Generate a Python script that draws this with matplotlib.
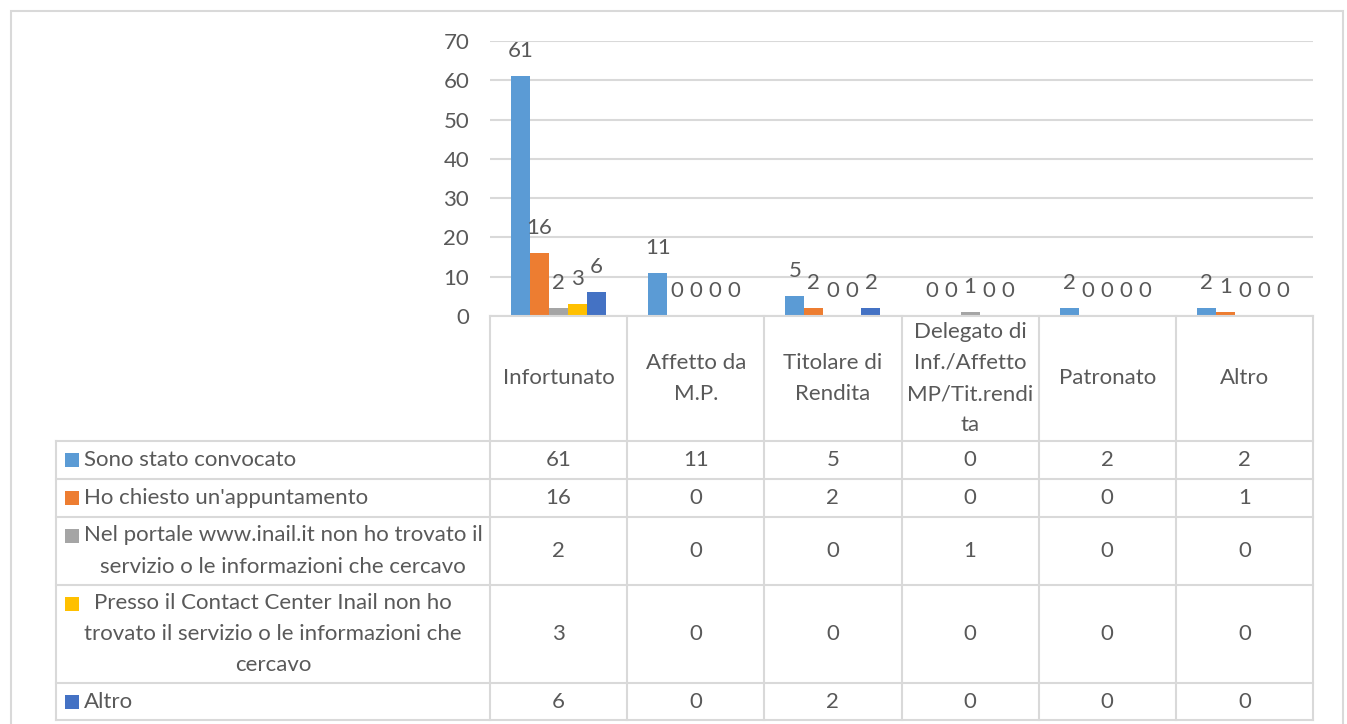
import numpy as np
import matplotlib
matplotlib.use("Agg")
import matplotlib.pyplot as plt
from matplotlib.lines import Line2D
from matplotlib.patches import Rectangle

plt.rcParams['font.family'] = ['Lato', 'DejaVu Sans']

categories = ["Infortunato", "Affetto da\nM.P.", "Titolare di\nRendita",
              "Delegato di\nInf./Affetto\nMP/Tit.rendi\nta", "Patronato", "Altro"]
series_names = [
    "Sono stato convocato",
    "Ho chiesto un'appuntamento",
    "Nel portale www.inail.it non ho trovato il\nservizio o le informazioni che cercavo",
    "Presso il Contact Center Inail non ho\ntrovato il servizio o le informazioni che\ncercavo",
    "Altro",
]
convocato = [61, 11, 5, 0, 2, 2]
appuntamento = [16, 0, 2, 0, 0, 1]
portale = [2, 0, 0, 1, 0, 0]
contact_center = [3, 0, 0, 0, 0, 0]
altro = [6, 0, 2, 0, 0, 0]
series_values = [convocato, appuntamento, portale, contact_center, altro]
colors = ["#5B9BD5", "#ED7D31", "#A5A5A5", "#FFC000", "#4472C4"]
yticks = [0, 10, 20, 30, 40, 50, 60, 70]

W, H = 1347, 724
TXT = "#595959"
GRID = "#D9D9D9"
FS = 16
LS = 1.7

fig = plt.figure(figsize=(W / 100, H / 100), dpi=100)


def fx(px):
    return px / W


def fy(py):
    return 1 - py / H


def hline(y, x0, x1, lw=1.5):
    fig.add_artist(Line2D([fx(x0), fx(x1)], [fy(y), fy(y)], color=GRID, lw=lw))


def vline(x, y0, y1, lw=1.5):
    fig.add_artist(Line2D([fx(x), fx(x)], [fy(y0), fy(y1)], color=GRID, lw=lw))


# outer chart border
fig.add_artist(Rectangle((fx(11), fy(730)), fx(1343 - 11), (730 - 11) / H,
                         fill=False, ec=GRID, lw=1.5))

# plot area
x_left, x_right, y_top, y_zero = 490, 1313, 41, 316
ax = fig.add_axes([fx(x_left), fy(y_zero), fx(x_right - x_left), (y_zero - y_top) / H])
n_cat = len(categories)
n_ser = len(series_values)
x = np.arange(n_cat)
bw = 19 / 137
for i, (vals, c) in enumerate(zip(series_values, colors)):
    pos = x + (i - (n_ser - 1) / 2) * bw
    ax.bar(pos, vals, width=bw, color=c, zorder=3)
    for px_, v in zip(pos, vals):
        ax.annotate(str(v), (px_, v), xytext=(0, 18), textcoords='offset points',
                    ha='center', va='center', fontsize=FS, color=TXT)
ax.set_xlim(-0.5, n_cat - 0.5)
ax.set_ylim(0, 70)
ax.set_yticks(yticks)
ax.set_xticks([])
ax.tick_params(axis='y', length=0, labelsize=FS, labelcolor=TXT, pad=15)
ax.grid(axis='y', color=GRID, lw=1.5, zorder=0)
for s in ax.spines.values():
    s.set_visible(False)
ax.patch.set_alpha(0)

# data table
col_w = (x_right - x_left) / n_cat
col_edges = [x_left + k * col_w for k in range(n_cat + 1)]
row_edges = [441, 479, 517, 585, 683, 720]
tab_left = 56

hline(y_zero, x_left, x_right)
for y in row_edges:
    hline(y, tab_left, x_right)
for xe in col_edges:
    vline(xe, y_zero, row_edges[-1])
vline(tab_left, row_edges[0], row_edges[-1])

for k, cat in enumerate(categories):
    cx = (col_edges[k] + col_edges[k + 1]) / 2
    fig.text(fx(cx), fy((y_zero + row_edges[0]) / 2), cat, ha='center', va='center',
             fontsize=FS, color=TXT, linespacing=LS)

line_px = 30
for r, (name, vals, c) in enumerate(zip(series_names, series_values, colors)):
    yc = (row_edges[r] + row_edges[r + 1]) / 2
    n_lines = name.count("\n") + 1
    key_y = yc - (n_lines - 1) / 2 * line_px
    fig.add_artist(Rectangle((fx(65), fy(key_y + 7)), fx(14), 14 / H,
                             fc=c, ec='none'))
    fig.text(fx(84), fy(yc), name, ha='left', va='center', multialignment='center',
             fontsize=FS, color=TXT, linespacing=LS)
    for k, v in enumerate(vals):
        cx = (col_edges[k] + col_edges[k + 1]) / 2
        fig.text(fx(cx), fy(yc), str(v), ha='center', va='center',
                 fontsize=FS, color=TXT)

fig.savefig("out.png", dpi=100)
